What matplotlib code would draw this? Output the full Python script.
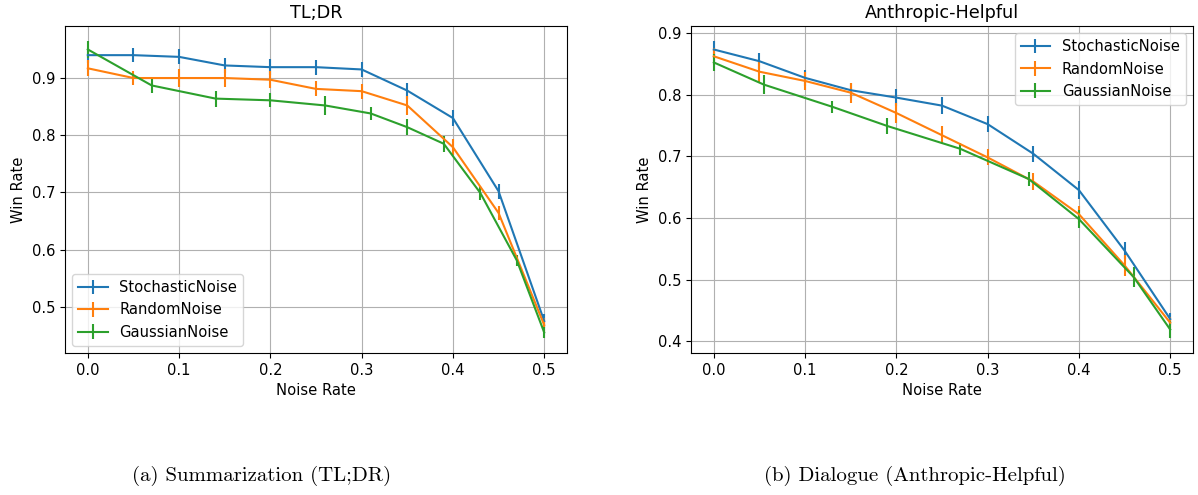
import matplotlib.pyplot as plt

plt.rcParams['font.size'] = 10.6

# ========== 数据 ==========
# TL;DR
tldr_x_sto = [0.0, 0.05, 0.1, 0.15, 0.2, 0.25, 0.3, 0.35, 0.4, 0.45, 0.5]
tldr_sto = [0.940, 0.940, 0.937, 0.922, 0.919, 0.919, 0.915, 0.878, 0.830, 0.702, 0.475]
tldr_sto_err = [0.013, 0.012, 0.013, 0.013, 0.014, 0.013, 0.013, 0.014, 0.014, 0.013, 0.012]

tldr_x_rnd = [0.0, 0.05, 0.1, 0.15, 0.2, 0.25, 0.3, 0.35, 0.4, 0.45, 0.5]
tldr_rnd = [0.917, 0.900, 0.900, 0.900, 0.897, 0.881, 0.877, 0.852, 0.779, 0.664, 0.468]
tldr_rnd_err = [0.014, 0.012, 0.015, 0.015, 0.015, 0.013, 0.013, 0.016, 0.014, 0.013, 0.012]

tldr_x_gau = [0.0, 0.07, 0.14, 0.2, 0.26, 0.31, 0.35, 0.39, 0.43, 0.47, 0.5]
tldr_gau = [0.950, 0.887, 0.864, 0.861, 0.852, 0.838, 0.814, 0.785, 0.699, 0.581, 0.455]
tldr_gau_err = [0.015, 0.013, 0.014, 0.012, 0.016, 0.012, 0.014, 0.014, 0.012, 0.010, 0.010]

# Anthropic-Helpful
hh_x_sto = [0.0, 0.05, 0.1, 0.15, 0.2, 0.25, 0.3, 0.35, 0.4, 0.45, 0.5]
hh_sto = [0.873, 0.854, 0.827, 0.807, 0.795, 0.782, 0.752, 0.704, 0.645, 0.547, 0.436]
hh_sto_err = [0.014, 0.013, 0.013, 0.012, 0.014, 0.014, 0.013, 0.013, 0.014, 0.014, 0.010]

hh_x_rnd = [0.0, 0.05, 0.1, 0.15, 0.2, 0.25, 0.3, 0.35, 0.4, 0.45, 0.5]
hh_rnd = [0.862, 0.837, 0.822, 0.803, 0.770, 0.734, 0.698, 0.659, 0.606, 0.523, 0.430]
hh_rnd_err = [0.014, 0.016, 0.014, 0.016, 0.016, 0.015, 0.013, 0.013, 0.014, 0.017, 0.010]

hh_x_gau = [0.0, 0.055, 0.13, 0.19, 0.27, 0.345, 0.4, 0.46, 0.5]
hh_gau = [0.852, 0.816, 0.780, 0.749, 0.712, 0.663, 0.598, 0.504, 0.419]
hh_gau_err = [0.014, 0.015, 0.010, 0.013, 0.010, 0.012, 0.014, 0.016, 0.014]

# ========== 画图 ==========
fig = plt.figure(figsize=(11.98, 4.95), dpi=100)
ax1 = fig.add_axes([65 / 1198, 1 - 353 / 495, 502 / 1198, 327 / 495])
ax2 = fig.add_axes([691 / 1198, 1 - 353 / 495, 502 / 1198, 327 / 495])

# TL;DR
ax1.errorbar(tldr_x_sto, tldr_sto, yerr=tldr_sto_err, label="StochasticNoise")
ax1.errorbar(tldr_x_rnd, tldr_rnd, yerr=tldr_rnd_err, label="RandomNoise")
ax1.errorbar(tldr_x_gau, tldr_gau, yerr=tldr_gau_err, label="GaussianNoise")
ax1.set_title("TL;DR")
ax1.set_xlabel("Noise Rate")
ax1.set_ylabel("Win Rate")
ax1.legend(loc="lower left")
ax1.grid(True)

# Anthropic-Helpful
ax2.errorbar(hh_x_sto, hh_sto, yerr=hh_sto_err, label="StochasticNoise")
ax2.errorbar(hh_x_rnd, hh_rnd, yerr=hh_rnd_err, label="RandomNoise")
ax2.errorbar(hh_x_gau, hh_gau, yerr=hh_gau_err, label="GaussianNoise")
ax2.set_title("Anthropic-Helpful")
ax2.set_xlabel("Noise Rate")
ax2.set_ylabel("Win Rate")
ax2.legend(loc="upper right")
ax2.grid(True)

# 子图标题
fig.text(262 / 1198, 1 - 476 / 495, "(a) Summarization (TL;DR)",
         ha="center", va="center", family="cmr10", fontsize=15)
fig.text(915 / 1198, 1 - 476 / 495, "(b) Dialogue (Anthropic-Helpful)",
         ha="center", va="center", family="cmr10", fontsize=15)

plt.savefig("out.png", dpi=100)
plt.close()
